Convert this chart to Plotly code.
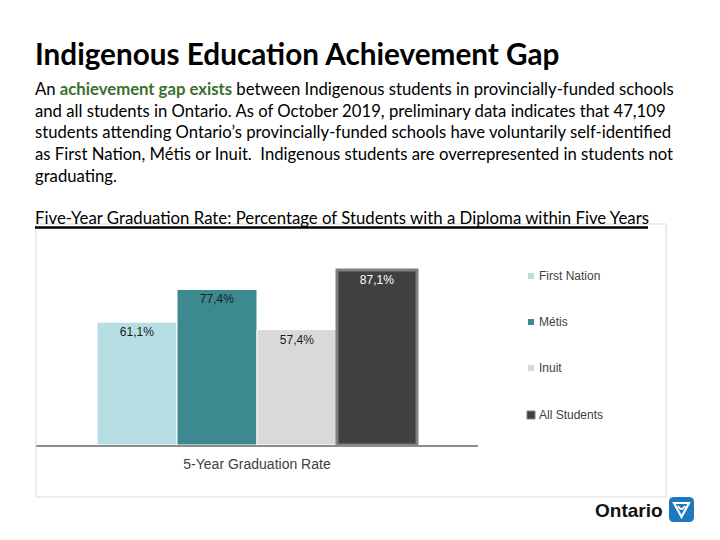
import plotly.graph_objects as go

# ---- data ----
category = ["5-Year Graduation Rate"]
series_names = ["First Nation", "Métis", "Inuit", "All Students"]
series_values = [61.1, 77.4, 57.4, 87.1]
series_colors = ["#B7DEE2", "#3C8A90", "#D9D9D9", "#404040"]
label_colors = ["#1a1a1a", "#1a1a1a", "#1a1a1a", "#ffffff"]

title_text = "Indigenous Education Achievement Gap"
body_lines = [
    "An <span style='color:#3B6E2E'><b>achievement gap exists</b></span> between Indigenous students in provincially-funded schools",
    "and all students in Ontario. As of October 2019, preliminary data indicates that 47,109",
    "students attending Ontario\u2019s provincially-funded schools have voluntarily self-identified",
    "as First Nation, Métis or Inuit.  Indigenous students are overrepresented in students not",
    "graduating.",
]
chart_title = "Five-Year Graduation Rate: Percentage of Students with a Diploma within Five Years"

W, H = 720, 540
def px(x):
    return x / W
def py(y):
    return 1 - y / H
def pp(x, y):
    return f"{px(x)},{py(y)}"

BODY_FONT = "Lato, Liberation Sans Narrow, sans-serif"

fig = go.Figure()
for name, val, col, lc in zip(series_names, series_values, series_colors, label_colors):
    is_all = name == "All Students"
    fig.add_trace(go.Bar(
        x=category, y=[val], name=name,
        marker=dict(color=col,
                    line=dict(color="#7F7F7F" if is_all else "#FFFFFF",
                              width=3 if is_all else 1)),
        text=[f"{val:.1f}".replace(".", ",") + "%"],
        textposition="inside", insidetextanchor="end",
        textfont=dict(family="Arial, Liberation Sans", size=12, color=lc),
        showlegend=False, hoverinfo="skip",
    ))

fig.update_layout(
    width=W, height=H,
    margin=dict(l=0, r=0, t=0, b=0),
    paper_bgcolor="white", plot_bgcolor="white",
    barmode="group", bargap=0.276, bargroupgap=0,
    showlegend=False,
    xaxis=dict(domain=[px(36), px(478)], showline=True, linecolor="#8C8C8C",
               linewidth=2, showgrid=False, zeroline=False, ticks="outside",
               ticklen=5, tickcolor="rgba(0,0,0,0)",
               tickfont=dict(family="Arial, Liberation Sans", size=14, color="#404040")),
    yaxis=dict(domain=[py(445), py(244)], range=[0, 100], visible=False,
               showgrid=False, zeroline=False),
)

annotations = []
shapes = []
# heading
annotations.append(dict(text=f"<b>{title_text}</b>", x=px(33), y=py(54), xref="paper", yref="paper",
                        xanchor="left", yanchor="middle", showarrow=False,
                        font=dict(family=BODY_FONT, size=29.7, color="#000000")))
# body
for i, line in enumerate(body_lines):
    annotations.append(dict(text=line, x=px(33), y=py(89 + i * 21.7), xref="paper", yref="paper",
                            xanchor="left", yanchor="middle", showarrow=False,
                            font=dict(family=BODY_FONT, size=16.7, color="#000000")))
# chart title
annotations.append(dict(text=chart_title, x=px(33), y=py(218), xref="paper", yref="paper",
                        xanchor="left", yanchor="middle", showarrow=False,
                        font=dict(family=BODY_FONT, size=16.8, color="#000000")))
# chart box (covers bottom of the title like in the original)
shapes.append(dict(type="rect", xref="paper", yref="paper", x0=px(37), x1=px(665), y0=py(224), y1=py(229),
                   line=dict(width=0), fillcolor="white", layer="above"))
shapes.append(dict(type="rect", xref="paper", yref="paper", x0=px(36), x1=px(666), y0=py(224), y1=py(497),
                   line=dict(color="#D9D9D9", width=1), fillcolor="rgba(0,0,0,0)", layer="above"))
shapes.append(dict(type="line", xref="paper", yref="paper", x0=px(35), x1=px(648), y0=py(227.5), y1=py(227.5),
                   line=dict(color="#000000", width=2.5), layer="above"))

# legend (manual)
leg_y = [276, 322, 368, 415]
for name, col, yy in zip(series_names, series_colors, leg_y):
    big = name == "All Students"
    s = 4 if big else 3
    shapes.append(dict(type="rect", xref="paper", yref="paper",
                       x0=px(531 - s), x1=px(531 + s), y0=py(yy - s), y1=py(yy + s),
                       fillcolor=col, line=dict(color="#7F7F7F" if big else col, width=1 if big else 0)))
    annotations.append(dict(text=name, x=px(537), y=py(yy), xref="paper", yref="paper",
                            xanchor="left", yanchor="middle", showarrow=False,
                            font=dict(family="Arial, Liberation Sans", size=12, color="#404040")))

# Ontario logo
annotations.append(dict(text="<b>Ontario</b>", x=px(665), y=py(510), xref="paper", yref="paper",
                        xanchor="right", yanchor="middle", showarrow=False,
                        font=dict(family="Arial, Liberation Sans", size=19, color="#111111")))
x0, x1, y0, y1, r = 669, 694, 497, 522, 5
path = (f"M {pp(x0+r,y0)} L {pp(x1-r,y0)} Q {pp(x1,y0)} {pp(x1,y0+r)} L {pp(x1,y1-r)} Q {pp(x1,y1)} {pp(x1-r,y1)} "
        f"L {pp(x0+r,y1)} Q {pp(x0,y1)} {pp(x0,y1-r)} L {pp(x0,y0+r)} Q {pp(x0,y0)} {pp(x0+r,y0)} Z")
shapes.append(dict(type="path", xref="paper", yref="paper", path=path, fillcolor="#1E78BE", line=dict(width=0)))
tri = f"M {pp(674,503)} L {pp(689,503)} L {pp(681.5,517)} Z"
shapes.append(dict(type="path", xref="paper", yref="paper", path=tri, fillcolor="rgba(0,0,0,0)",
                   line=dict(color="white", width=2.2)))
inner = f"M {pp(678,506)} Q {pp(681.5,512)} {pp(685,506)}"
shapes.append(dict(type="path", xref="paper", yref="paper", path=inner, fillcolor="rgba(0,0,0,0)",
                   line=dict(color="white", width=1.8)))

fig.update_layout(annotations=annotations, shapes=shapes)
fig.write_html("out.html")
